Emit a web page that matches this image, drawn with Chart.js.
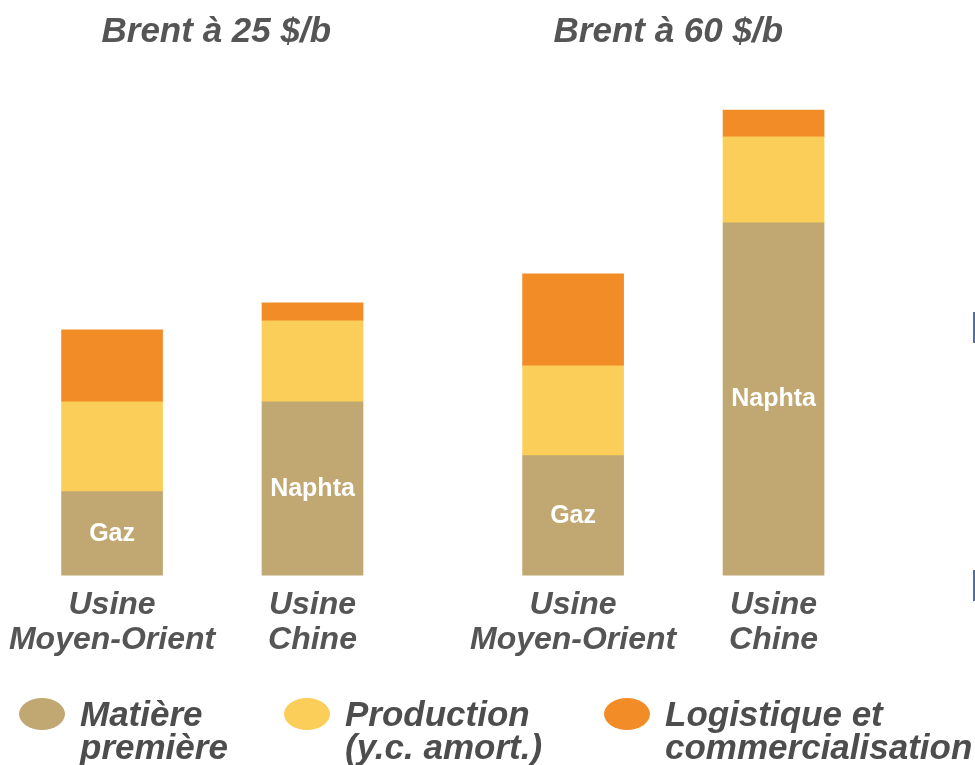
<!DOCTYPE html>
<html>
<head>
<meta charset="utf-8">
<script src="https://cdn.jsdelivr.net/npm/chart.js@4"></script>
<style>
  html, body { margin: 0; padding: 0; background: #fff; }
  #wrap { width: 975px; height: 765px; }
</style>
</head>
<body>
<div id="wrap"><canvas id="chart" width="975" height="765"></canvas></div>
<script>
// bars: two per Brent scenario, a gap between the two groups
const usines = [["Usine", "Moyen-Orient"], ["Usine", "Chine"], ["Usine", "Moyen-Orient"], ["Usine", "Chine"]];
const xPos = [0, 1, 2.3, 3.3];
const scenarios = ["Brent à 25 $/b", "Brent à 60 $/b"];
const feedstock = ["Gaz", "Naphta", "Gaz", "Naphta"];

const matiere = [84, 174, 120, 353];
const production = [90, 81, 90, 86];
const logistique = [72, 18, 92, 27];

const seriesNames = [["Matière", "première"], ["Production", "(y.c. amort.)"], ["Logistique et", "commercialisation"]];
const colors = ["#C1A872", "#FACE59", "#F28C26"];

const textGray = "#555555";

function pts(vals) {
    return vals.map((v, i) => ({ x: xPos[i], y: v }));
}

// group titles, feedstock labels, legend
const decorations = {
    id: "decorations",
    afterDraw(chart) {
        const ctx = chart.ctx;
        const x = chart.scales.x, y = chart.scales.y;
        ctx.save();

        ctx.fillStyle = textGray;
        ctx.font = "italic bold 35px 'Liberation Sans', Arial, sans-serif";
        ctx.textAlign = "center";
        ctx.textBaseline = "middle";
        ctx.fillText(scenarios[0], x.getPixelForValue((xPos[0] + xPos[1]) / 2) + 4, 32);
        ctx.fillText(scenarios[1], x.getPixelForValue((xPos[2] + xPos[3]) / 2) - 5, 32);

        // feedstock name inside the bottom segment
        ctx.fillStyle = "#ffffff";
        ctx.font = "bold 25px 'Liberation Sans', Arial, sans-serif";
        feedstock.forEach((t, i) => {
            ctx.fillText(t, x.getPixelForValue(xPos[i]), y.getPixelForValue(matiere[i] / 2));
        });

        // legend
        const lx = [42, 307, 627];
        ctx.textAlign = "left";
        ctx.textBaseline = "alphabetic";
        ctx.font = "italic bold 35px 'Liberation Sans', Arial, sans-serif";
        seriesNames.forEach((lines, i) => {
            ctx.fillStyle = colors[i];
            ctx.beginPath();
            ctx.ellipse(lx[i], 714, 23, 16, 0, 0, Math.PI * 2);
            ctx.fill();
            ctx.fillStyle = "#4d4d4d";
            lines.forEach((l, j) => ctx.fillText(l, lx[i] + 38, 726 + j * 33));
        });

        // slide edge marks
        ctx.fillStyle = "#4F6FA0";
        ctx.fillRect(973, 312, 2, 31);
        ctx.fillRect(973, 570, 2, 31);
        ctx.restore();
    }
};

new Chart(document.getElementById("chart"), {
    type: "bar",
    data: {
        datasets: [
            { label: seriesNames[0].join(" "), data: pts(matiere), backgroundColor: colors[0] },
            { label: seriesNames[1].join(" "), data: pts(production), backgroundColor: colors[1] },
            { label: seriesNames[2].join(" "), data: pts(logistique), backgroundColor: colors[2] }
        ]
    },
    options: {
        responsive: false,
        animation: false,
        barThickness: 101,
        layout: { padding: { top: 60, bottom: 95, left: 0, right: 0 } },
        plugins: { legend: { display: false }, tooltip: { enabled: false } },
        scales: {
            x: {
                type: "linear",
                stacked: true,
                offset: false,
                min: -0.559,
                max: 4.305,
                grid: { display: false, drawTicks: false, offset: false },
                border: { display: false },
                afterBuildTicks: (s) => { s.ticks = xPos.map(v => ({ value: v })); },
                // labels fit inside the canvas, no extra side padding needed
                afterFit: (s) => { s.paddingLeft = 0; s.paddingRight = 0; },
                ticks: {
                    autoSkip: false,
                    maxRotation: 0,
                    padding: 12,
                    color: textGray,
                    font: { family: "'Liberation Sans', Arial, sans-serif", size: 32, weight: "bold", style: "italic", lineHeight: 1.1 },
                    callback: (v, i) => usines[i]
                }
            },
            y: {
                stacked: true,
                display: false,
                min: 0,
                max: 516
            }
        }
    },
    plugins: [decorations]
});
</script>
</body>
</html>
